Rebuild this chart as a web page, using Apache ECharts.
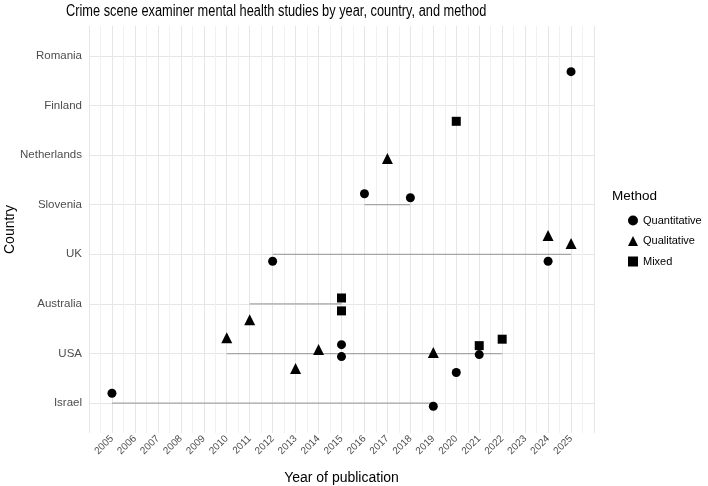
<!DOCTYPE html>
<html lang="en">
  <head>
    <meta charset="UTF-8" />
    <title>Crime scene examiner mental health studies</title>
    <style>
      * {
        margin: 0;
        padding: 0;
      }
      #main {
        width: 708px;
        height: 486px;
        background: #fff;
      }
    </style>
  </head>
  <body>
    <div id="main"></div>
    <script src="https://cdn.jsdelivr.net/npm/echarts@6/dist/echarts.min.js"></script>
    <script>
      // countries, bottom to top (y position 1..8)
      var countries = ["Israel", "USA", "Australia", "UK", "Slovenia", "Netherlands", "Finland", "Romania"];
      var methods = ["Quantitative", "Qualitative", "Mixed"];
      var years = [2005, 2006, 2007, 2008, 2009, 2010, 2011, 2012, 2013, 2014, 2015, 2016, 2017, 2018, 2019, 2020, 2021, 2022, 2023, 2024, 2025];

      // one entry per study
      var studyYear = [2005, 2019, 2010, 2013, 2014, 2015, 2015, 2019, 2020, 2021, 2021, 2022, 2011, 2015, 2015, 2012, 2024, 2024, 2025, 2016, 2018, 2017, 2020, 2025];
      var studyCountry = ["Israel", "Israel", "USA", "USA", "USA", "USA", "USA", "USA", "USA", "USA", "USA", "USA",
        "Australia", "Australia", "Australia", "UK", "UK", "UK", "UK", "Slovenia", "Slovenia", "Netherlands", "Finland", "Romania"];
      var studyMethod = ["Quantitative", "Quantitative", "Qualitative", "Qualitative", "Qualitative", "Quantitative", "Quantitative",
        "Qualitative", "Quantitative", "Mixed", "Quantitative", "Mixed", "Qualitative", "Mixed", "Mixed", "Quantitative",
        "Quantitative", "Qualitative", "Qualitative", "Quantitative", "Quantitative", "Qualitative", "Mixed", "Quantitative"];
      // vertical jitter
      var studyJitter = [0.2, -0.06, 0.32, -0.3, 0.08, 0.18, -0.06, 0.02, -0.38, 0.16, -0.02, 0.29, -0.32, 0.12, -0.14,
        -0.14, -0.14, 0.38, 0.22, 0.22, 0.14, -0.07, -0.32, -0.32];

      var symbols = { Quantitative: "circle", Qualitative: "triangle", Mixed: "rect" };
      var sizes = { Quantitative: 9, Qualitative: 11, Mixed: 9 };

      // range segments per country (min to max year)
      var segData = [];
      countries.forEach(function (c, i) {
        var ys = studyYear.filter(function (y, k) {
          return studyCountry[k] === c;
        });
        if (ys.length > 1) {
          segData.push([Math.min.apply(null, ys), i + 1]);
          segData.push([Math.max.apply(null, ys), i + 1]);
          segData.push("-");
        }
      });

      var series = [
        {
          type: "line",
          name: "range",
          data: segData,
          symbol: "none",
          connectNulls: false,
          lineStyle: { color: "#a6a6a6", width: 1.3 },
          silent: true,
          z: 1,
        },
      ];
      methods.forEach(function (m) {
        var pts = [];
        studyYear.forEach(function (y, k) {
          if (studyMethod[k] === m) {
            pts.push([y, countries.indexOf(studyCountry[k]) + 1 + studyJitter[k]]);
          }
        });
        series.push({
          type: "scatter",
          name: m,
          data: pts,
          symbol: symbols[m],
          symbolSize: sizes[m],
          itemStyle: { color: "#000", opacity: 1 },
          z: 3,
        });
      });

      var chart = echarts.init(document.getElementById("main"));
      var font = "Liberation Sans";
      chart.setOption({
        animation: false,
        textStyle: { fontFamily: font },
        grid: { left: 89, right: 114, top: 26, bottom: 53, outerBoundsMode: "none" },
        legend: {
          data: methods,
          orient: "vertical",
          left: 623,
          top: 210,
          itemWidth: 10,
          itemHeight: 10,
          itemGap: 9.5,
          textStyle: { fontSize: 11, color: "#000", fontFamily: font },
        },
        graphic: [
          {
            // title, a bit condensed like the original
            type: "text",
            x: 66,
            y: 12,
            scaleX: 0.8,
            style: {
              text: "Crime scene examiner mental health studies by year, country, and method",
              fontSize: 16,
              fill: "#000",
              fontFamily: font,
              textVerticalAlign: "middle",
            },
          },
          {
            type: "text",
            left: 612,
            top: 189,
            style: { text: "Method", fontSize: 13.5, fill: "#000", fontFamily: font },
          },
        ],
        xAxis: {
          type: "value",
          min: 2004,
          max: 2026,
          interval: 1,
          name: "Year of publication",
          nameLocation: "middle",
          nameGap: 38,
          nameMoveOverlap: false,
          nameTextStyle: { fontSize: 14, color: "#000" },
          axisLine: { show: false },
          axisTick: { show: false },
          axisLabel: {
            rotate: 45,
            fontSize: 10,
            color: "#4d4d4d",
            margin: 4,
            formatter: function (v) {
              return years.indexOf(v) >= 0 ? String(v) : "";
            },
          },
          splitLine: { show: true, lineStyle: { color: "#e6e6e6", width: 1 } },
          minorTick: { show: false, splitNumber: 2 },
          minorSplitLine: { show: true, lineStyle: { color: "#f1f1f1", width: 1 } },
        },
        yAxis: {
          type: "value",
          min: 0.4,
          max: 8.6,
          name: "Country",
          nameLocation: "middle",
          nameGap: 72,
          nameMoveOverlap: false,
          nameTextStyle: { fontSize: 14, color: "#000" },
          axisLine: { show: false },
          axisTick: { show: false, customValues: [1, 2, 3, 4, 5, 6, 7, 8] },
          axisLabel: {
            customValues: [1, 2, 3, 4, 5, 6, 7, 8],
            fontSize: 11.5,
            color: "#4d4d4d",
            margin: 7,
            formatter: function (v) {
              return countries[Math.round(v) - 1];
            },
          },
          splitLine: { show: true, lineStyle: { color: "#e6e6e6", width: 1 } },
        },
        series: series,
      });
    </script>
  </body>
</html>
